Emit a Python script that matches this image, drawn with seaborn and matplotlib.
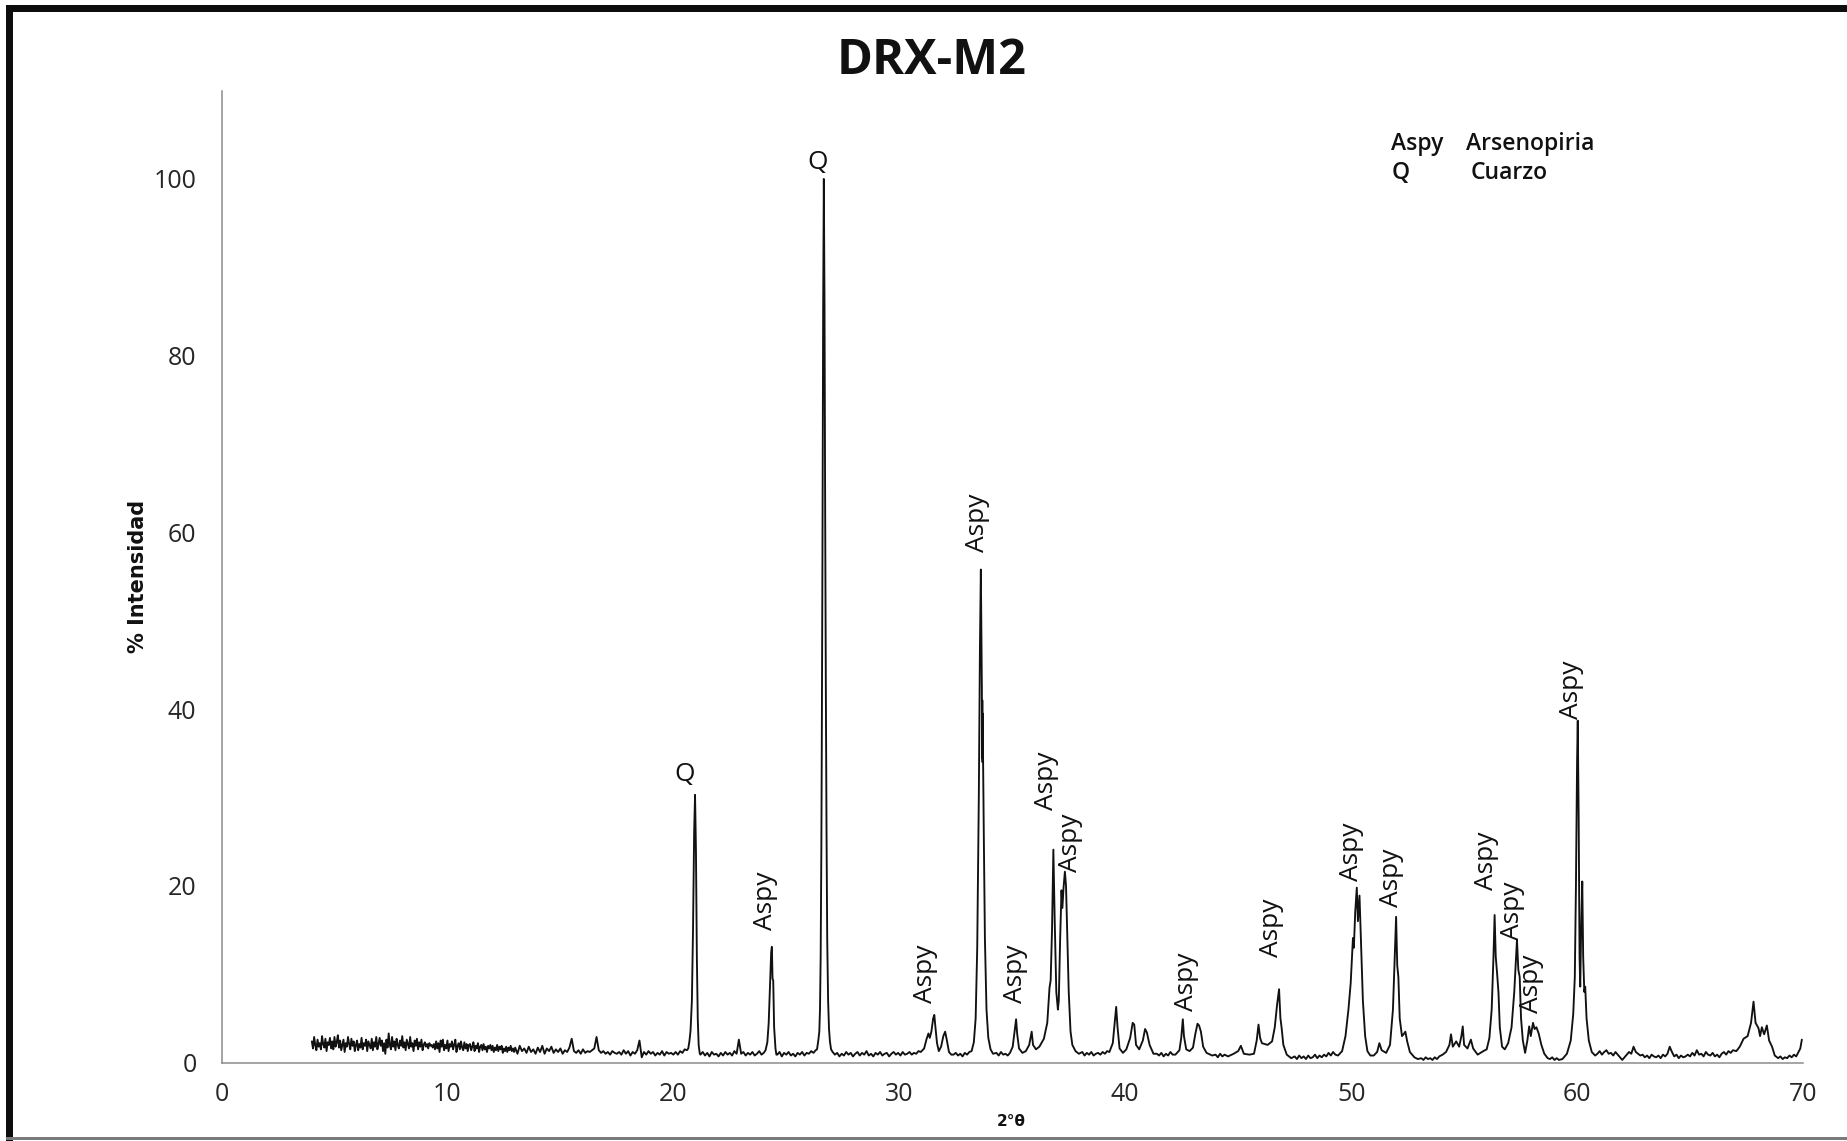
import numpy as np
import pandas as pd
import matplotlib
matplotlib.use("Agg")
import matplotlib.pyplot as plt
from matplotlib.patches import Rectangle
import seaborn as sns

sns.set_theme(style="white")
plt.rcParams["font.family"] = ["Open Sans", "DejaVu Sans"]


def run(start, step, values):
    """Evenly stepped stretch of the scan (2theta, % intensity)."""
    return [(round(start + i * step, 3), v) for i, v in enumerate(values)]


# ---- diffractogram, read as (2theta, % intensity) stretches -------------
scan_04_13 = run(4.0, 0.05, [
    2.4, 1.6, 2.9, 2.0, 1.4, 2.6, 1.8, 2.2, 1.5, 3.0, 2.1, 1.7, 2.7, 1.3, 2.3, 2.0, 2.8, 1.6, 2.4, 1.5,
    2.9, 1.8, 2.3, 3.1, 1.7, 2.5, 1.4, 2.0, 2.6, 1.2, 2.2, 1.8, 2.9, 2.1, 1.5, 2.7, 1.9, 2.4, 1.3, 2.0,
    2.5, 1.4, 2.1, 1.7, 2.8, 1.5, 2.2, 1.9, 2.6, 1.3, 2.4, 2.0, 1.6, 2.7, 1.4, 2.3, 1.8, 2.9, 1.5, 2.1,
    2.8, 1.9, 2.5, 1.3, 2.2, 1.0, 2.6, 1.7, 3.3, 2.0, 1.5, 2.9, 1.8, 2.4, 1.4, 2.7, 2.0, 1.6, 2.5, 1.9,
    3.0, 1.7, 2.3, 1.4, 2.6, 2.1, 1.6, 2.9, 1.8, 2.2, 1.3, 2.5, 1.9, 2.7, 1.5, 2.3, 1.8, 2.6, 1.4, 2.0,
    2.3, 1.8, 2.1, 1.6, 2.2, 1.9, 2.0, 1.7, 2.1, 1.5, 2.4, 1.6, 2.2, 1.2, 2.5, 1.8, 2.6, 1.4, 2.0, 1.6,
    2.5, 1.3, 2.1, 1.8, 2.4, 1.5, 2.0, 2.6, 1.2, 1.9, 2.2, 1.5, 2.4, 1.7, 1.4, 2.3, 1.6, 2.1, 1.3, 2.0,
    2.1, 1.4, 1.8, 2.3, 1.3, 1.9, 1.6, 2.2, 1.2, 1.8, 2.0, 1.4, 2.1, 1.5, 1.8, 1.2, 1.9, 1.6, 2.0, 1.4,
    1.9, 1.2, 1.7, 1.4, 2.0, 1.3, 1.8, 1.5, 1.9, 1.1, 1.6, 1.3, 1.8, 1.2, 1.7, 1.4, 1.9, 1.3, 1.6, 1.2,
])

scan_13_21 = run(13.0, 0.1, [
    1.7, 1.0, 1.9, 1.3, 1.6, 1.1, 1.8, 1.2, 1.5, 1.0,
    1.7, 1.2, 1.9, 1.0, 1.6, 1.3, 1.8, 1.1, 1.5, 1.2,
    1.6, 1.0, 1.4, 1.2, 1.7, 2.7, 1.3, 1.1, 1.4, 1.0,
    1.5, 1.1, 1.3, 1.2, 1.4, 1.6, 2.9, 1.4, 1.1, 1.3,
    1.0, 1.2, 0.9, 1.3, 1.1, 1.0, 1.2, 0.9, 1.4, 1.0,
    1.3, 0.8, 1.2, 1.0, 1.4, 2.5, 0.6, 1.2, 0.9, 1.3,
    1.0, 1.2, 0.8, 1.1, 0.9, 1.3, 0.8, 1.2, 1.0, 1.1,
    0.9, 1.2, 0.9, 1.3, 1.1, 1.5, 1.4,
]) + [
    (20.66, 1.6), (20.71, 2.4), (20.76, 3.6), (20.82, 7.0), (20.87, 15.0),
    (20.92, 26.0), (20.96, 30.3), (21.00, 24.0), (21.04, 12.0), (21.08, 5.0),
    (21.12, 2.0), (21.17, 1.0),
]

scan_21_30 = run(21.2, 0.1, [
    0.9, 1.2, 0.8, 1.1, 0.7, 1.2, 0.9, 1.0, 0.7, 1.1,
    0.8, 1.2, 0.9, 1.1, 0.8, 1.3, 1.0, 2.6, 1.0, 1.2,
    0.8, 1.1, 0.9, 1.2, 0.8, 1.0, 1.3, 0.9, 1.1,
]) + [
    (24.08, 1.4), (24.16, 2.3), (24.22, 4.5), (24.28, 9.0), (24.33, 12.5),
    (24.36, 13.1), (24.39, 9.5), (24.42, 9.3), (24.46, 4.0), (24.52, 1.6),
    (24.56, 0.9),
] + run(24.6, 0.1, [
    0.9, 1.2, 0.7, 1.1, 0.9, 1.2, 0.8, 1.0, 0.7, 1.1,
    0.9, 1.2, 0.8, 1.1, 1.0, 1.3, 1.1, 1.4,
]) + [
    (26.36, 1.5), (26.42, 2.6), (26.46, 3.5), (26.49, 6.0), (26.52, 12.0),
    (26.55, 24.0), (26.57, 36.0), (26.60, 58.0), (26.63, 85.0), (26.66, 100.0),
    (26.69, 86.0), (26.72, 62.0), (26.75, 42.0), (26.78, 26.0), (26.81, 14.0),
    (26.85, 7.0), (26.89, 3.8), (26.93, 2.4), (26.98, 1.5),
] + run(27.05, 0.1, [
    1.2, 0.9, 1.1, 0.7, 1.0, 0.8, 1.2, 0.9, 1.1, 0.7,
    1.0, 1.2, 0.8, 1.1, 0.9, 1.3, 0.8, 1.0, 0.7, 1.1,
    0.9, 1.2, 0.8, 1.0, 1.1, 0.7, 1.0, 1.2, 0.9, 1.1,
    0.8, 1.2, 0.9, 1.0, 1.2, 0.9, 1.1, 1.0, 1.3,
])

scan_31_41 = [
    (30.95, 1.2), (31.10, 1.6), (31.20, 2.6), (31.29, 3.3), (31.35, 2.8),
    (31.42, 3.5), (31.50, 5.0), (31.55, 5.4), (31.60, 4.0), (31.67, 2.2),
    (31.75, 1.3), (31.85, 1.8), (31.95, 3.0), (32.03, 3.5), (32.10, 2.6),
    (32.20, 1.2), (32.30, 0.9),
] + run(32.4, 0.1, [0.9, 1.1, 0.8, 1.0, 0.7, 1.1, 0.9, 1.2]) + [
    (33.20, 1.3), (33.30, 2.3), (33.38, 5.0), (33.45, 13.0), (33.52, 30.0),
    (33.57, 47.0), (33.61, 55.8), (33.64, 47.0), (33.655, 42.4), (33.665, 34.5),
    (33.675, 41.0), (33.685, 34.0), (33.695, 39.5), (33.71, 34.0), (33.74, 26.0),
    (33.79, 14.0), (33.86, 6.0), (33.94, 2.8), (34.04, 1.5), (34.15, 1.0),
] + run(34.3, 0.1, [1.1, 0.8, 1.2, 0.9, 1.0, 0.8, 1.1]) + [
    (35.02, 1.8), (35.10, 3.5), (35.17, 4.9), (35.22, 3.2), (35.30, 1.6),
    (35.45, 1.1), (35.60, 1.3), (35.75, 2.0), (35.86, 3.5), (35.92, 2.0),
    (36.05, 1.5), (36.20, 1.8), (36.40, 2.7), (36.55, 4.5), (36.65, 8.5),
    (36.70, 9.3), (36.76, 15.0), (36.82, 24.1), (36.88, 16.0), (36.95, 8.0),
    (37.02, 6.0), (37.06, 7.0), (37.12, 14.0), (37.18, 19.5), (37.22, 17.5),
    (37.27, 19.8), (37.33, 21.6), (37.38, 20.0), (37.43, 15.0), (37.50, 8.0),
    (37.58, 3.5), (37.66, 2.0), (37.80, 1.3), (37.95, 1.0),
] + run(38.1, 0.1, [1.2, 0.8, 1.1, 0.9, 1.2, 0.8, 1.0, 1.1, 0.9, 1.2, 1.0, 1.3]) + [
    (39.30, 1.2), (39.45, 2.2), (39.55, 5.0), (39.60, 6.3), (39.66, 4.0),
    (39.75, 1.6), (39.90, 1.1), (40.05, 1.5), (40.22, 2.8), (40.33, 4.5),
    (40.40, 4.3), (40.48, 2.0), (40.62, 1.5), (40.78, 2.5), (40.88, 3.8),
    (40.96, 3.4), (41.08, 2.0), (41.25, 1.0),
]

scan_41_51 = run(41.4, 0.1, [1.0, 0.8, 1.1, 0.7, 1.0, 0.8, 1.2, 0.9]) + [
    (42.22, 0.9), (42.40, 1.4), (42.48, 2.8), (42.55, 4.9), (42.60, 3.0),
    (42.70, 1.5), (42.85, 1.3), (43.00, 1.7), (43.10, 3.2), (43.20, 4.4),
    (43.27, 4.2), (43.35, 3.5), (43.45, 1.8), (43.60, 1.1), (43.85, 0.8),
] + run(44.0, 0.1, [0.9, 0.6, 1.0, 0.7, 0.9]) + [
    (44.55, 0.7), (44.80, 1.0), (45.00, 1.3), (45.12, 1.9), (45.25, 1.0),
    (45.50, 0.9), (45.70, 1.0), (45.82, 2.5), (45.90, 4.3), (45.97, 2.8),
    (46.05, 2.2), (46.30, 2.0), (46.50, 2.4), (46.62, 4.0), (46.72, 6.5),
    (46.81, 8.3), (46.87, 5.0), (46.92, 4.0), (47.00, 2.0), (47.15, 0.9),
    (47.35, 0.5),
] + run(47.5, 0.1, [
    0.7, 0.4, 0.8, 0.5, 0.7, 0.4, 0.8, 0.5, 0.6, 0.9,
    0.5, 0.8, 0.6, 0.9, 0.7, 1.1, 0.8, 1.2, 0.9,
]) + [
    (49.42, 0.8), (49.60, 1.3), (49.75, 3.0), (49.88, 6.0), (49.98, 9.0),
    (50.08, 14.1), (50.12, 13.0), (50.18, 17.0), (50.25, 19.8), (50.30, 16.0),
    (50.37, 18.9), (50.43, 14.0), (50.52, 7.0), (50.62, 3.0), (50.72, 1.3),
    (50.85, 0.8),
]

scan_51_61 = [
    (51.00, 0.8), (51.15, 1.2), (51.25, 2.2), (51.35, 1.4), (51.55, 1.1),
    (51.72, 2.0), (51.85, 6.0), (51.93, 12.0), (51.99, 16.5), (52.04, 11.0),
    (52.09, 9.7), (52.15, 5.0), (52.25, 3.0), (52.32, 3.2), (52.40, 3.5),
    (52.48, 2.4), (52.60, 1.2), (52.80, 0.6), (52.95, 0.4),
] + run(53.1, 0.1, [0.5, 0.3, 0.6, 0.4, 0.5, 0.3, 0.6, 0.4, 0.7]) + [
    (54.05, 0.9), (54.20, 1.2), (54.35, 2.0), (54.42, 3.2), (54.50, 1.8),
    (54.65, 2.4), (54.78, 1.8), (54.88, 3.0), (54.94, 4.1), (55.00, 2.0),
    (55.15, 1.6), (55.30, 2.6), (55.40, 1.6), (55.60, 0.9), (55.85, 1.3),
    (56.00, 1.5), (56.12, 2.8), (56.22, 6.0), (56.30, 12.0), (56.35, 16.7),
    (56.40, 12.0), (56.46, 10.1), (56.52, 8.0), (56.58, 4.0), (56.68, 1.8),
    (56.80, 1.5), (56.95, 2.2), (57.10, 4.0), (57.22, 8.0), (57.30, 12.0),
    (57.34, 13.9), (57.40, 10.5), (57.46, 9.7), (57.52, 5.0), (57.60, 2.5),
    (57.70, 1.1), (57.80, 2.5), (57.88, 4.1), (57.95, 3.0), (58.05, 4.5),
    (58.12, 3.8), (58.20, 4.0), (58.30, 3.3), (58.42, 2.0), (58.55, 1.0),
    (58.70, 0.5),
] + run(58.8, 0.1, [0.4, 0.6, 0.3, 0.5, 0.3]) + [
    (59.35, 0.4), (59.55, 1.0), (59.72, 2.5), (59.83, 5.5), (59.90, 9.7),
    (59.95, 20.0), (60.00, 34.0), (60.03, 38.7), (60.07, 28.0), (60.11, 12.0),
    (60.14, 8.6), (60.18, 15.0), (60.23, 20.5), (60.27, 12.0), (60.32, 8.0),
    (60.36, 8.6), (60.42, 5.0), (60.52, 2.5), (60.65, 1.2), (60.80, 0.8),
]

scan_61_70 = run(60.9, 0.1, [
    1.0, 1.3, 0.9, 1.2, 1.4, 1.0, 1.1, 0.8, 1.2, 0.9,
    0.6, 0.3, 0.6, 0.9, 1.2, 1.0, 1.8, 1.2, 1.0, 0.8,
    0.9, 0.6, 0.8, 0.5, 0.9, 0.7, 0.6, 0.8, 0.5, 0.9,
    0.7, 1.0, 1.8, 1.2, 0.7, 0.9, 0.5, 0.8, 0.6, 0.7,
    0.9, 0.7, 1.1, 0.8, 1.4, 0.9, 1.0, 0.7, 1.2, 0.9,
    0.8, 1.1, 0.7, 0.9, 0.6, 1.0, 1.2, 0.9, 1.3, 1.1,
    1.4,
]) + [
    (67.05, 1.3), (67.20, 1.8), (67.37, 2.7), (67.55, 3.0), (67.70, 4.5),
    (67.81, 6.9), (67.90, 4.5), (68.03, 3.9), (68.10, 3.0), (68.18, 4.0),
    (68.28, 3.2), (68.40, 4.2), (68.50, 2.5), (68.63, 1.8), (68.75, 0.8),
] + run(68.9, 0.1, [0.5, 0.7, 0.4, 0.6, 0.5, 0.8, 0.6, 0.9, 0.7, 1.2]) + [
    (69.88, 1.6), (69.95, 2.6),
]

# ---- phase labels on the reflections ------------------------------------
label_text = ["Q", "Aspy", "Q", "Aspy", "Aspy", "Aspy", "Aspy", "Aspy",
              "Aspy", "Aspy", "Aspy", "Aspy", "Aspy", "Aspy", "Aspy", "Aspy"]
label_x = [20.52, 24.06, 26.37, 31.14, 33.48, 35.13, 36.53, 37.56,
           42.70, 46.49, 50.03, 51.80, 56.00, 57.16, 58.00, 59.77]
label_y = [31.2, 15.0, 100.5, 6.7, 57.8, 6.7, 28.6, 21.6,
           5.8, 12.0, 20.5, 17.6, 19.5, 13.9, 5.6, 38.9]

# ---- key of phase abbreviations -----------------------------------------
key_abbrev = ["Aspy", "Q"]
key_names = ["Arsenopiria", "Cuarzo"]

x_ticks = [0, 10, 20, 30, 40, 50, 60, 70]
y_ticks = [0, 20, 40, 60, 80, 100]

trace = pd.DataFrame(
    scan_04_13 + scan_13_21 + scan_21_30 + scan_31_41 + scan_41_51
    + scan_51_61 + scan_61_70,
    columns=["two_theta", "intensity"],
)

W, H = 1847, 1141
fig = plt.figure(figsize=(W / 100, H / 100), dpi=100)
fig.patch.set_facecolor("white")
ax = fig.add_axes([221.5 / W, 78.4 / H, 1581.5 / W, 972 / H])

sns.lineplot(data=trace, x="two_theta", y="intensity", sort=False,
             estimator=None, color="#111111", linewidth=1.35, ax=ax)

ax.set_xlim(0, 70)
ax.set_ylim(0, 110)
ax.set_xticks(x_ticks)
ax.set_yticks(y_ticks)
ax.set_xticklabels([str(t) for t in x_ticks])
ax.set_yticklabels([str(t) for t in y_ticks])
ax.tick_params(axis="both", length=0, labelsize=18, colors="#262626")
ax.tick_params(axis="x", pad=14)
ax.tick_params(axis="y", pad=18)
ax.grid(False)
for side in ("top", "right"):
    ax.spines[side].set_visible(False)
for side in ("left", "bottom"):
    ax.spines[side].set_color("#8c8c8c")
    ax.spines[side].set_linewidth(1.1)

ax.set_xlabel("2°θ", fontsize=11, fontweight="bold", family="DejaVu Sans",
              color="#111111")
ax.xaxis.label.set_va("center")
ax.xaxis.set_label_coords(0.4992, -0.0601)
ax.set_ylabel("% Intensidad", fontsize=15, fontweight="bold",
              family="DejaVu Sans", color="#111111")
ax.yaxis.label.set_va("center")
ax.yaxis.set_label_coords(-0.0528, 0.5)

for txt, lx, ly in zip(label_text, label_x, label_y):
    ax.text(lx, ly, txt, rotation=0 if txt == "Q" else 90,
            ha="center", va="bottom", fontsize=19, color="#111111")

for i, (abbr, name) in enumerate(zip(key_abbrev, key_names)):
    yk = 103.3 - 3.3 * i
    ax.text(51.77, yk, abbr, ha="left", va="baseline", fontsize=16.5,
            fontweight="semibold", color="#111111")
    ax.text(55.1 + 0.17 * i, yk, name, ha="left", va="baseline",
            fontsize=16.5, fontweight="semibold", color="#111111")

fig.text(932 / W, 1 - 62 / H, "DRX-M2", ha="center", va="center",
         fontsize=35, fontweight="bold", color="#111111")

# frame of the chart area
fig.patches.append(Rectangle((6 / W, 0), 7 / W, 1 - 5 / H, transform=fig.transFigure,
                             facecolor="#0d0d0d", edgecolor="none"))
fig.patches.append(Rectangle((6 / W, 1 - 12 / H), 1 - 6 / W, 7 / H,
                             transform=fig.transFigure,
                             facecolor="#0d0d0d", edgecolor="none"))
fig.patches.append(Rectangle((6 / W, 1 / H), 1 - 6 / W, 3 / H,
                             transform=fig.transFigure,
                             facecolor="#7a7a7a", edgecolor="none"))

fig.savefig("out.png", dpi=100, facecolor="white")
